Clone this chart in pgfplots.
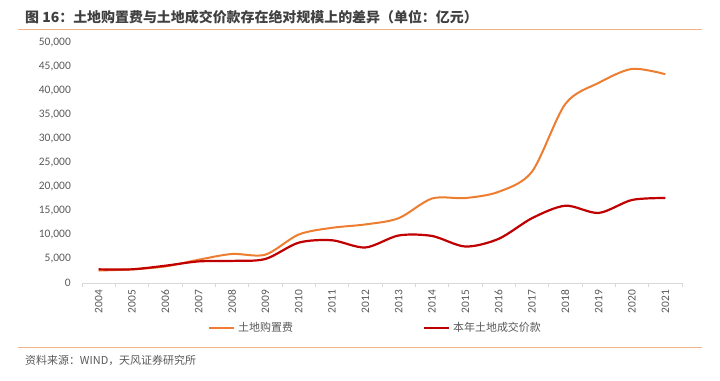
\documentclass[border=0pt]{standalone}
\usepackage{fontspec}
\setmainfont{Noto Sans CJK SC}
\newfontfamily\numfont{Carlito}
\usepackage{pgfplots}
\pgfplotsset{compat=1.18}
\definecolor{orgline}{HTML}{ED7D31}
\definecolor{redline}{HTML}{C00000}
\definecolor{rulecol}{HTML}{F4B183}
\definecolor{txt}{HTML}{595959}
\definecolor{ttl}{HTML}{404040}
\definecolor{axisgrey}{HTML}{D9D9D9}
\begin{document}
\begin{tikzpicture}
\path[use as bounding box] (0bp,0bp) rectangle (720bp,381bp);
\node[anchor=west, font=\bfseries\fontsize{14}{16}\selectfont, text=ttl, inner sep=0pt] at (25bp,364bp) {图 16：土地购置费与土地成交价款存在绝对规模上的差异（单位：亿元）};
\node[anchor=west, inner sep=0pt] at (18bp,351.7bp) {\textcolor{rulecol}{\rule{684bp}{1.4bp}}};
\node[anchor=west, inner sep=0pt] at (18bp,33.7bp) {\textcolor{rulecol}{\rule{684bp}{1.4bp}}};
\node[anchor=west, font=\fontsize{11}{13}\selectfont, text=txt, inner sep=0pt] at (25bp,21bp) {资料来源：WIND，天风证券研究所};
\begin{axis}[
  at={(82bp,98bp)}, anchor=south west,
  scale only axis, width=600bp, height=240bp,
  xmin=-0.5, xmax=17.5, ymin=0, ymax=50000,
  axis x line*=bottom, axis y line*=left,
  x axis line style={draw=axisgrey, line width=0.8bp},
  y axis line style={draw=none},
  xtick={0,...,17},
  xticklabels={2004,2005,2006,2007,2008,2009,2010,2011,2012,2013,2014,2015,2016,2017,2018,2019,2020,2021},
  major tick length=0pt,
  xticklabel style={rotate=90, anchor=east, inner xsep=7bp, inner ysep=0pt, font=\numfont\fontsize{11.5}{13}\selectfont, text=txt},
  extra x ticks={-0.5,0.5,...,17.5},
  extra x tick labels={},
  extra x tick style={major tick length=4bp, tick align=outside, tick style={draw=axisgrey, line width=0.8bp}},
  ytick={0,5000,...,50000},
  scaled y ticks=false,
  yticklabel style={anchor=east, inner sep=0pt, xshift=-11bp, font=\numfont\fontsize{11.5}{13}\selectfont, text=txt},
  /pgf/number format/.cd, 1000 sep={,}, assume math mode=true,
  /pgfplots/.cd,
  legend columns=2,
  legend style={draw=none, fill=none, at={(0.21,-0.1875)}, anchor=west, inner sep=0pt,
    font=\fontsize{11}{13}\selectfont, text=txt,
    nodes={inner xsep=3bp, inner ysep=0pt},
    /tikz/every even column/.append style={column sep=127bp}},
  legend image code/.code={\draw[#1] (0bp,0bp) -- (25bp,0bp);},
]
\addplot[orgline, line width=2bp, smooth, tension=0.5] coordinates {
(0,2600) (1,2850) (2,3450) (3,4850) (4,6050) (5,5900) (6,10100) (7,11500) (8,12200) (9,13500) (10,17600) (11,17700) (12,19000) (13,23200) (14,37300) (15,41700) (16,44600) (17,43500)};
\addlegendentry{土地购置费}
\addplot[redline, line width=2.2bp, smooth, tension=0.5] coordinates {
(0,2850) (1,2850) (2,3600) (3,4500) (4,4600) (5,5000) (6,8400) (7,8900) (8,7400) (9,9900) (10,9800) (11,7600) (12,9200) (13,13500) (14,16100) (15,14600) (16,17300) (17,17700)};
\addlegendentry{本年土地成交价款}
\end{axis}
\end{tikzpicture}
\end{document}
